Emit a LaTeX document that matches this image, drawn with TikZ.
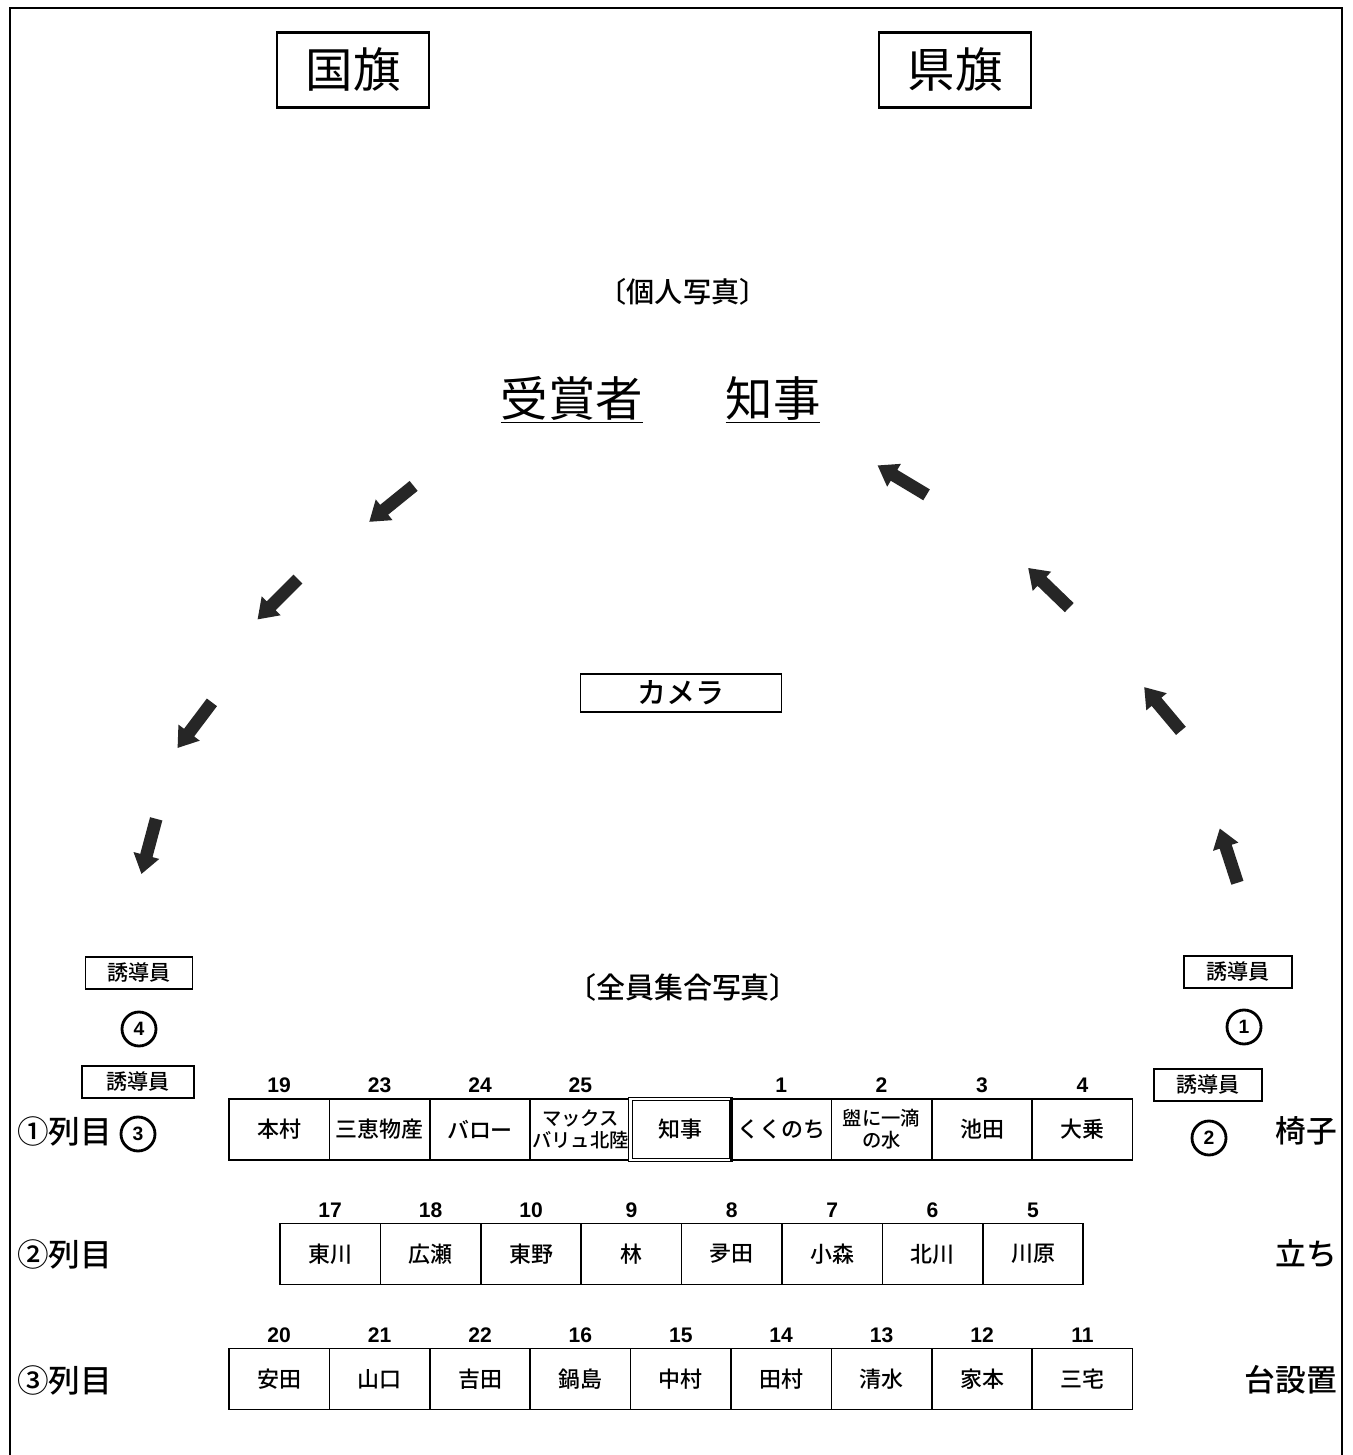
\documentclass[tikz,border=0pt]{standalone}
\usepackage{fontspec}
\setmainfont{Noto Sans CJK JP}
\newfontfamily\jpmed{Noto Sans CJK JP Medium}
\newfontfamily\numfont{Liberation Sans}
\usepackage{tikz}
\usetikzlibrary{shapes.arrows}
\usetikzlibrary{positioning}

\tikzset{
  flagbox/.style={draw, line width=1.2pt, minimum width=3.04cm, minimum height=1.5cm, font=\fontsize{27}{30}\selectfont},
  seat/.style={draw, line width=0.9pt, outer sep=0, minimum width=2.008cm, minimum height=1.22cm, inner sep=1pt, align=center, font=\jpmed\fontsize{12.5}{14}\selectfont, label distance=1pt},
  seatno/.style={font=\numfont\bfseries\fontsize{12}{12}\selectfont},
  guide/.style={draw, line width=1pt, minimum width=2.14cm, minimum height=0.64cm, inner sep=1pt, font=\jpmed\fontsize{12}{13}\selectfont},
  numcirc/.style={draw, circle, line width=1.6pt, minimum size=0.68cm, inner sep=0, font=\numfont\bfseries\fontsize{11}{11}\selectfont},
  rowlabel/.style={anchor=west, font=\jpmed\fontsize{18}{20}\selectfont},
  seatkind/.style={anchor=east, font=\jpmed\fontsize{17.5}{20}\selectfont},
  walk/.style={single arrow, fill=black!85, minimum height=1.14cm, inner sep=0.12cm, single arrow head extend=0.14cm, single arrow tip angle=70},
}

\begin{document}
\begin{tikzpicture}
\fill[white] (0,0) rectangle (27.06,29.1);
\useasboundingbox (0,0) rectangle (27.06,29.1);
\draw[line width=1.2pt] (0.2,0) -- (0.2,28.94) -- (26.84,28.94) -- (26.84,0);

% flags
\node[flagbox] (kokki) at (7.06,27.7) {国旗};
\node[flagbox] (kenki) at (19.1,27.7) {県旗};

% individual photo
\node[font=\jpmed\fontsize{16}{18}\selectfont] (kojin) at (13.66,23.26) {〔個人写真〕};
\node[font=\fontsize{27}{30}\selectfont] (jusho) at (11.44,21.1) {\underline{受賞者}};
\node[font=\fontsize{27}{30}\selectfont] (chiji) at (15.46,21.1) {\underline{知事}};
\node[draw, line width=1pt, minimum width=4.02cm, minimum height=0.76cm, inner sep=0, font=\jpmed\fontsize{16.5}{18}\selectfont] (camera) at (13.62,15.24) {カメラ};

% walking route
\node[walk, rotate=219] (walkL1) at (7.9,19.08) {};
\node[walk, rotate=225] (walkL2) at (5.62,17.18) {};
\node[walk, rotate=233] (walkL3) at (3.95,14.67) {};
\node[walk, rotate=255] (walkL4) at (3.0,12.26) {};
\node[walk, rotate=149] (walkR1) at (18.12,19.45) {};
\node[walk, rotate=136] (walkR2) at (21.04,17.28) {};
\node[walk, rotate=130] (walkR3) at (23.31,14.85) {};
\node[walk, rotate=108] (walkR4) at (24.6,11.9) {};

% group photo
\node[font=\jpmed\fontsize{16.5}{18}\selectfont] (zenin) at (13.66,9.36) {〔全員集合写真〕};

% guides
\node[guide] (guideL1) at (2.78,9.64) {誘導員};
\node[numcirc] (posL4) at (2.78,8.52) {4};
\node[guide, minimum width=2.24cm] (guideL2) at (2.76,7.46) {誘導員};
\node[numcirc] (posL3) at (2.76,6.42) {3};
\node[guide, minimum width=2.16cm] (guideR1) at (24.76,9.66) {誘導員};
\node[numcirc] (posR1) at (24.88,8.56) {1};
\node[guide, minimum width=2.16cm] (guideR2) at (24.16,7.4) {誘導員};
\node[numcirc] (posR2) at (24.18,6.34) {2};

% row labels
\node[rowlabel] (row1) at (0.22,6.48) {①列目};
\node[rowlabel] (row2) at (0.22,4.02) {②列目};
\node[rowlabel] (row3) at (0.22,1.5) {③列目};
\node[seatkind] (isu) at (26.86,6.48) {椅子};
\node[seatkind] (tachi) at (26.86,4.02) {立ち};
\node[seatkind] (dai) at (26.86,1.5) {台設置};

% row 1
\node[seat, anchor=west, label={[seatno]above:19}] (s19) at (4.58,6.51) {本村};
\node[seat, label={[seatno]above:23}, right=0pt of s19] (s23) {三恵物産};
\node[seat, label={[seatno]above:24}, right=0pt of s23] (s24) {バロー};
\node[seat, label={[seatno]above:25}, right=0pt of s24, font=\jpmed\fontsize{11}{12.5}\selectfont] (s25) {マックス\\バリュ北陸};
\node[seat, right=0pt of s25, double, double distance=1.4pt, line width=0.6pt] (sChiji) {知事};
\node[seat, label={[seatno]above:1}, right=0pt of sChiji] (s1) {くくのち};
\node[seat, label={[seatno]above:2}, right=0pt of s1, font=\jpmed\fontsize{11}{12.5}\selectfont] (s2) {盥に一滴\\の水};
\node[seat, label={[seatno]above:3}, right=0pt of s2] (s3) {池田};
\node[seat, label={[seatno]above:4}, right=0pt of s3] (s4) {大乗};

% row 2
\node[seat, anchor=west, label={[seatno]above:17}] (s17) at (5.6,4.02) {東川};
\node[seat, label={[seatno]above:18}, right=0pt of s17] (s18) {広瀬};
\node[seat, label={[seatno]above:10}, right=0pt of s18] (s10) {東野};
\node[seat, label={[seatno]above:9}, right=0pt of s10] (s9) {林};
\node[seat, label={[seatno]above:8}, right=0pt of s9] (s8) {夛田};
\node[seat, label={[seatno]above:7}, right=0pt of s8] (s7) {小森};
\node[seat, label={[seatno]above:6}, right=0pt of s7] (s6) {北川};
\node[seat, label={[seatno]above:5}, right=0pt of s6] (s5) {川原};

% row 3
\node[seat, anchor=west, label={[seatno]above:20}] (s20) at (4.58,1.52) {安田};
\node[seat, label={[seatno]above:21}, right=0pt of s20] (s21) {山口};
\node[seat, label={[seatno]above:22}, right=0pt of s21] (s22) {吉田};
\node[seat, label={[seatno]above:16}, right=0pt of s22] (s16) {鍋島};
\node[seat, label={[seatno]above:15}, right=0pt of s16] (s15) {中村};
\node[seat, label={[seatno]above:14}, right=0pt of s15] (s14) {田村};
\node[seat, label={[seatno]above:13}, right=0pt of s14] (s13) {清水};
\node[seat, label={[seatno]above:12}, right=0pt of s13] (s12) {家本};
\node[seat, label={[seatno]above:11}, right=0pt of s12] (s11) {三宅};
\end{tikzpicture}
\end{document}
